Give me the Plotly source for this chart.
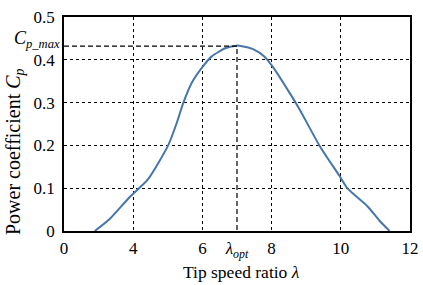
import plotly.graph_objects as go

# Data
tsr = [2.89, 3.32, 3.86, 4.43, 5.01, 5.26, 5.45, 5.69, 6.01, 6.27, 6.66, 6.97, 7.07, 7.46, 7.79, 8.03, 8.61, 8.81, 9.38, 9.96, 10.2, 10.77, 11.12, 11.41]
cp = [0.0, 0.028, 0.076, 0.121, 0.2, 0.253, 0.3, 0.346, 0.384, 0.408, 0.427, 0.433, 0.433, 0.425, 0.408, 0.384, 0.311, 0.284, 0.2, 0.129, 0.099, 0.058, 0.024, 0.0]
lam_opt = 7.0
cp_max = 0.432
x_tickvals = [2, 4, 6, 7, 8, 10, 12]
x_ticktext = ["0", "4", "6", "<i>λ<sub>opt</sub></i>", "8", "10", "12"]
x_gridvals = [4, 6, 8, 10]
y_tickvals = [0, 0.1, 0.2, 0.3, 0.4, 0.5]
y_ticktext = ["0", "0.1", "0.2", "0.3", "0.4", "0.5"]

FONT = "Liberation Serif, Times New Roman, serif"

fig = go.Figure()
fig.add_trace(go.Scatter(x=tsr, y=cp, mode="lines", line=dict(color="#4676aa", width=2, shape="spline", smoothing=0.6),
                         showlegend=False, hoverinfo="skip"))
# dashed optimum lines
fig.add_trace(go.Scatter(x=[2, lam_opt, lam_opt], y=[cp_max, cp_max, 0], mode="lines",
                         line=dict(color="black", width=1.2, dash="5px,3px"), showlegend=False, hoverinfo="skip"))
# grid-only axis
fig.add_trace(go.Scatter(x=[2, 12], y=[0, 0], xaxis="x2", mode="lines", line=dict(width=0),
                         showlegend=False, hoverinfo="skip"))

fig.update_layout(
    width=423, height=285,
    margin=dict(l=64, r=13, t=17, b=54, autoexpand=False),
    paper_bgcolor="white", plot_bgcolor="white",
    font=dict(family=FONT, size=17, color="black"),
    xaxis=dict(range=[2, 12], tickvals=x_tickvals, ticktext=x_ticktext, showgrid=False,
               showline=True, linecolor="black", linewidth=1.5, mirror=True, ticks="",
               zeroline=False, tickfont=dict(size=17, family=FONT, color="black"), automargin=False,
               ticklabelstandoff=1),
    xaxis2=dict(range=[2, 12], overlaying="x", tickvals=x_gridvals, showticklabels=False,
                showgrid=True, gridcolor="black", gridwidth=1, griddash="dot", zeroline=False,
                showline=False, ticks="", automargin=False),
    yaxis=dict(range=[0, 0.5], tickvals=y_tickvals, ticktext=y_ticktext, showgrid=True,
               gridcolor="black", gridwidth=1, griddash="dot",
               showline=True, linecolor="black", linewidth=1.5, mirror=True, ticks="",
               zeroline=False, tickfont=dict(size=17, family=FONT, color="black"), ticklabelstandoff=4,
               automargin=False),
)
fig.add_annotation(text="Tip speed ratio <i>λ</i>", xref="paper", yref="paper",
                   x=(241 - 64) / 346, y=-(272 - 231) / 214, xanchor="center", yanchor="middle",
                   showarrow=False, font=dict(size=17.5, family=FONT))
fig.add_annotation(text="Power coefficient <i>C<sub>p</sub></i>", textangle=-90, xref="paper", yref="paper",
                   x=-(64 - 14) / 346, y=(231 - 152) / 214, xanchor="center", yanchor="middle", showarrow=False,
                   font=dict(size=20, family=FONT))
fig.add_annotation(text="<i>C<sub>p_max</sub></i>", xref="paper", yref="y", x=-0.005, y=0.447,
                   xanchor="right", yanchor="middle", showarrow=False, font=dict(size=18, family=FONT))

fig.write_html("out.html", config={"displayModeBar": False},
               post_script="document.body.style.margin='0';document.body.style.padding='0';"
                           "document.body.style.overflow='hidden';")
